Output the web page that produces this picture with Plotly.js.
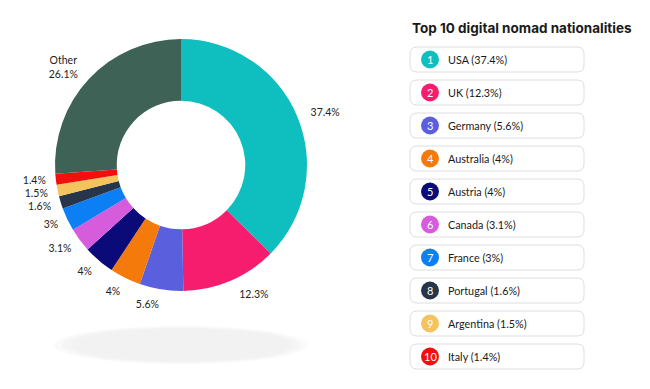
<!DOCTYPE html>
<html><head><meta charset="utf-8">
<script src="https://cdn.plot.ly/plotly-3.0.1.min.js"></script>
<style>html,body{margin:0;padding:0;background:#fff}#chart{width:650px;height:389px}
#chart path.textline{display:none}</style>
</head><body><div id="chart"></div>
<script>
const categories = ["USA","UK","Germany","Australia","Austria","Canada","France","Portugal","Argentina","Italy","Other"];
const shares = [37.4,12.3,5.6,4,4,3.1,3,1.6,1.5,1.4,26.1];
const colors = ["#0fbfbf","#f71d6e","#5a5fde","#f57a0c","#0a0a78","#d75cdb","#0d7ff5","#263549","#f5c35e","#f2100f","#3e6255"];
const legendTitle = "Top 10 digital nomad nationalities";

const W = 650, H = 389;
const fontFam = "Lato, 'Noto Sans', sans-serif";
const titleFam = "Inter, 'Noto Sans', sans-serif";
const CX = 181, CY = 165, R = 126, RLAB = 135;

const pieText = shares.map((v,i)=> categories[i]==="Other" ? "Other<br>"+v+"%" : v+"%");
function dom(r, dx){ dx = dx||0; return {x:[(CX+dx-r)/W,(CX+dx+r)/W], y:[1-(CY+r)/H, 1-(CY-r)/H]}; }

const pie = {
  type:"pie", values:shares, labels:categories, textinfo:"none",
  sort:false, direction:"clockwise", rotation:0, hole:0.51,
  marker:{colors:colors, line:{width:0}},
  domain:dom(R), showlegend:false, hoverinfo:"label+percent"
};
// transparent ring used only to place the outside percentage labels a little further out
const labelRing = {
  type:"pie", values:shares, labels:categories, text:pieText, textinfo:"text",
  textposition:"outside", sort:false, direction:"clockwise", rotation:0, hole:0.9,
  marker:{colors:shares.map(()=>"rgba(0,0,0,0)"), line:{width:0}},
  outsidetextfont:{family:fontFam, size:10.5, color:"#222"},
  domain:dom(RLAB, 2), showlegend:false, hoverinfo:"skip"
};

const shapes = [];
const annotations = [];
[[1.0,0.3],[0.94,0.4],[0.87,0.55]].forEach(([s,o])=>{
  const cx=181, cy=345, rx=127*s, ry=19*s;
  shapes.push({type:"circle",xref:"x",yref:"y",x0:cx-rx,x1:cx+rx,y0:cy-ry,y1:cy+ry,
    fillcolor:"#eeeeee",opacity:o,line:{width:0},layer:"below"});
});
function rrect(x0,y0,x1,y1,r){
  return `M${x0+r},${y0} L${x1-r},${y0} Q${x1},${y0} ${x1},${y0+r} L${x1},${y1-r} Q${x1},${y1} ${x1-r},${y1} L${x0+r},${y1} Q${x0},${y1} ${x0},${y1-r} L${x0},${y0+r} Q${x0},${y0} ${x0+r},${y0} Z`;
}
annotations.push({xref:"x",yref:"y",x:410,y:28,xanchor:"left",yanchor:"middle",showarrow:false,
  text:"<b>"+legendTitle+"</b>",font:{family:titleFam,size:13.5,color:"#1a1a1a"}});
for(let i=0;i<10;i++){
  const top=47+i*33, bot=top+25, cy=(top+bot)/2;
  shapes.push({type:"path",xref:"x",yref:"y",path:rrect(410,top,584,bot,7),
    fillcolor:"#fff",line:{color:"#dedede",width:1}});
  shapes.push({type:"circle",xref:"x",yref:"y",x0:421,x1:439,y0:cy-9,y1:cy+9,
    fillcolor:colors[i],line:{width:0}});
  annotations.push({xref:"x",yref:"y",x:430,y:cy,xanchor:"center",yanchor:"middle",showarrow:false,
    text:String(i+1),font:{family:fontFam,size:11,color:"#fff"}});
  annotations.push({xref:"x",yref:"y",x:446,y:cy,xanchor:"left",yanchor:"middle",showarrow:false,
    text:categories[i]+" ("+shares[i]+"%)",font:{family:fontFam,size:10.8,color:"#1a1a1a"}});
}

const layout = {
  width:W, height:H, margin:{l:0,r:0,t:0,b:0},
  paper_bgcolor:"#fff", plot_bgcolor:"rgba(0,0,0,0)",
  xaxis:{range:[0,W],visible:false,fixedrange:true,domain:[0,1]},
  yaxis:{range:[H,0],visible:false,fixedrange:true,domain:[0,1]},
  shapes, annotations, showlegend:false
};
Plotly.newPlot("chart",[pie,labelRing],layout,{displayModeBar:false,staticPlot:true});
</script></body></html>
